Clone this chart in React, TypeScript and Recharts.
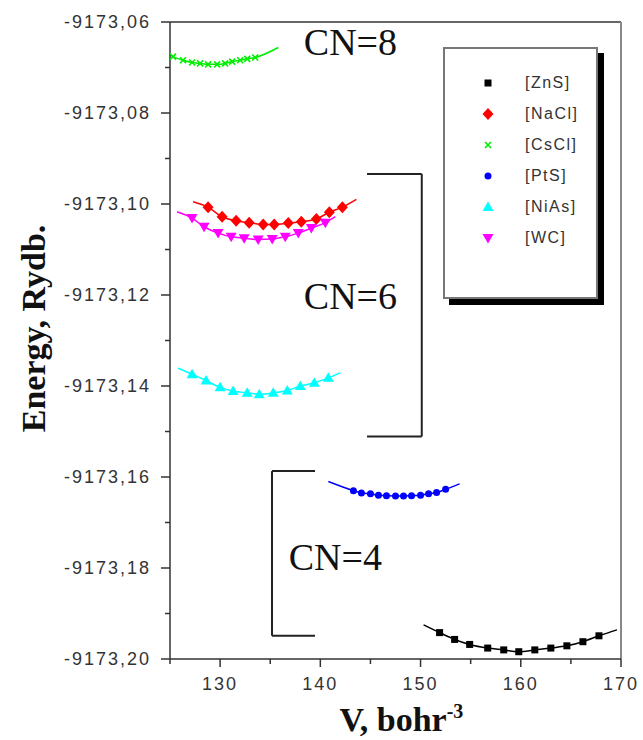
import {
  ComposedChart,
  Line,
  Scatter,
  XAxis,
  YAxis,
  ReferenceLine,
  ReferenceDot,
  Legend,
  Label,
} from "recharts";

// volumes (bohr^3) and energies (Rydb.)
const znsV = [151.9, 153.4, 154.9, 156.7, 158.3, 159.8, 161.4, 163.0, 164.6, 166.2, 167.8];
const znsE = [-9173.1942, -9173.1957, -9173.1968, -9173.1976, -9173.198, -9173.1984, -9173.198, -9173.1976, -9173.1971, -9173.1962, -9173.1949];
const naclV = [128.8, 130.2, 131.6, 132.9, 134.3, 135.4, 136.8, 138.1, 139.6, 140.9, 142.2];
const naclE = [-9173.1007, -9173.1028, -9173.1037, -9173.1041, -9173.1045, -9173.1045, -9173.1042, -9173.1039, -9173.1033, -9173.1018, -9173.1007];
const csclV = [125.3, 126.3, 127.2, 128.0, 128.8, 129.7, 130.5, 131.2, 132.0, 132.7, 133.5];
const csclE = [-9173.0676, -9173.0684, -9173.0689, -9173.0691, -9173.0693, -9173.0693, -9173.0691, -9173.0687, -9173.0684, -9173.0681, -9173.0678];
const ptsV = [143.3, 144.1, 145.0, 145.8, 146.6, 147.5, 148.3, 149.1, 150.0, 150.8, 151.6, 152.5];
const ptsE = [-9173.163, -9173.1635, -9173.1637, -9173.164, -9173.1641, -9173.1642, -9173.1642, -9173.1641, -9173.164, -9173.1637, -9173.1634, -9173.1627];
const niasV = [127.2, 128.6, 130.0, 131.3, 132.7, 133.9, 135.3, 136.7, 138.0, 139.4, 140.8];
const niasE = [-9173.1374, -9173.1388, -9173.1403, -9173.1411, -9173.1415, -9173.1418, -9173.1415, -9173.141, -9173.14, -9173.1393, -9173.1382];
const wcV = [127.2, 128.4, 129.8, 131.1, 132.4, 133.8, 135.2, 136.5, 137.8, 139.1, 140.5];
const wcE = [-9173.1031, -9173.105, -9173.1064, -9173.1072, -9173.1075, -9173.1078, -9173.1077, -9173.1072, -9173.1064, -9173.1053, -9173.1041];

// ends of the fitted curves [V, E]
const znsFit = [[150.3, -9173.1925], [169.6, -9173.1936]];
const naclFit = [[127.3, -9173.0995], [143.6, -9173.099]];
const csclFit = [[125.0, -9173.0673], [135.8, -9173.0656]];
const ptsFit = [[140.8, -9173.161], [153.9, -9173.1615]];
const niasFit = [[125.8, -9173.1361], [142.0, -9173.1371]];
const wcFit = [[125.7, -9173.1017], [141.5, -9173.1028]];

const xTicks = [125, 130, 135, 140, 145, 150, 155, 160, 165, 170];
const xLabeled = [130, 140, 150, 160, 170];
const yTicks = [
  -9173.2, -9173.19, -9173.18, -9173.17, -9173.16, -9173.15, -9173.14, -9173.13,
  -9173.12, -9173.11, -9173.1, -9173.09, -9173.08, -9173.07, -9173.06,
];
const yLabeled = [-9173.2, -9173.18, -9173.16, -9173.14, -9173.12, -9173.1, -9173.08, -9173.06];

// bracket annotations [V, E] corner points
const cn6Bracket = [[144.66, -9173.0934], [150.12, -9173.0934], [150.12, -9173.1511], [144.66, -9173.1511]];
const cn4Bracket = [[139.47, -9173.1587], [135.18, -9173.1587], [135.18, -9173.1949], [139.47, -9173.1949]];
const cnLabels = [
  { text: "CN=8", x: 143.0, y: -9173.0643 },
  { text: "CN=6", x: 143.0, y: -9173.1202 },
  { text: "CN=4", x: 141.5, y: -9173.1774 },
];

const series = [
  { name: "[ZnS]", color: "#000000", marker: "square", v: znsV, e: znsE, fit: znsFit },
  { name: "[NaCl]", color: "#ff0000", marker: "diamond", v: naclV, e: naclE, fit: naclFit },
  { name: "[CsCl]", color: "#00ee00", marker: "cross", v: csclV, e: csclE, fit: csclFit },
  { name: "[PtS]", color: "#0000ff", marker: "circle", v: ptsV, e: ptsE, fit: ptsFit },
  { name: "[NiAs]", color: "#00ffff", marker: "up", v: niasV, e: niasE, fit: niasFit },
  { name: "[WC]", color: "#ff00ff", marker: "down", v: wcV, e: wcE, fit: wcFit },
];

const AXIS = "#333";
const SANS = "'Liberation Sans', Arial, sans-serif";
const SERIF = "'Liberation Serif', 'Times New Roman', serif";

function Marker({ kind, cx, cy, color }: { kind: string; cx: number; cy: number; color: string }) {
  switch (kind) {
    case "square":
      return <rect x={cx - 3.5} y={cy - 3.5} width={7} height={7} fill={color} />;
    case "diamond":
      return <polygon points={`${cx},${cy - 6} ${cx + 5.5},${cy} ${cx},${cy + 6} ${cx - 5.5},${cy}`} fill={color} />;
    case "cross":
      return (
        <path
          d={`M${cx - 3},${cy - 3}L${cx + 3},${cy + 3}M${cx + 3},${cy - 3}L${cx - 3},${cy + 3}`}
          stroke={color}
          strokeWidth={1.6}
        />
      );
    case "circle":
      return <circle cx={cx} cy={cy} r={3.5} fill={color} />;
    case "up":
      return <polygon points={`${cx},${cy - 5.5} ${cx + 5.5},${cy + 4} ${cx - 5.5},${cy + 4}`} fill={color} />;
    default:
      return <polygon points={`${cx},${cy + 5.5} ${cx + 5.5},${cy - 4} ${cx - 5.5},${cy - 4}`} fill={color} />;
  }
}

const fmtY = (v: number) => v.toFixed(2).replace(".", ",");

function YTick(props: any) {
  const { x, y, payload } = props;
  const major = yLabeled.includes(payload.value);
  return (
    <g>
      <line x1={x} x2={x - (major ? 9 : 5)} y1={y} y2={y} stroke={AXIS} strokeWidth={1.5} />
      {major && (
        <text x={x - 19} y={y} dy="0.36em" textAnchor="end" fontSize={18} letterSpacing={2} fill="#333" fontFamily={SANS}>
          {fmtY(payload.value)}
        </text>
      )}
    </g>
  );
}

function XTick(props: any) {
  const { x, y, payload } = props;
  const major = xLabeled.includes(payload.value);
  return (
    <g>
      <line x1={x} x2={x} y1={y} y2={y + (major ? 8 : 5)} stroke={AXIS} strokeWidth={1.5} />
      {major && (
        <text x={x} y={y + 31} textAnchor="middle" fontSize={18} letterSpacing={2} fill="#333" fontFamily={SANS}>
          {payload.value}
        </text>
      )}
    </g>
  );
}

function LegendBox() {
  return (
    <div
      style={{
        width: 155,
        height: 252,
        border: "2px solid #777",
        background: "#fff",
        boxShadow: "6px 6px 0 #000",
        paddingTop: 18,
        boxSizing: "border-box",
      }}
    >
      {series.map((s) => (
        <div key={s.name} style={{ display: "flex", alignItems: "center", height: 31 }}>
          <svg width={80} height={20}>
            <Marker kind={s.marker} cx={43} cy={10} color={s.color} />
          </svg>
          <span style={{ fontFamily: SANS, fontSize: 16, letterSpacing: 1.5, color: "#333" }}>{s.name}</span>
        </div>
      ))}
    </div>
  );
}

export default function App() {
  return (
    <div style={{ position: "absolute", left: 0, top: 0, width: 643, height: 740, background: "#fff" }}>
      <ComposedChart width={643} height={740} margin={{ top: 22, right: 22, left: 0, bottom: 0 }}>
        <XAxis
          type="number"
          dataKey="x"
          domain={[125, 170]}
          ticks={xTicks}
          interval={0}
          allowDataOverflow
          height={81}
          tickSize={0}
          tickMargin={0}
          tickLine={false}
          tick={<XTick />}
          axisLine={{ stroke: AXIS, strokeWidth: 1.5 }}
        >
          <Label
            content={(p: any) => {
              const vb = p.viewBox;
              return (
                <text
                  x={vb.x + vb.width / 2 + 6}
                  y={731}
                  textAnchor="middle"
                  fontFamily={SERIF}
                  fontWeight="bold"
                  fontSize={34}
                  fill="#111"
                >
                  V, bohr
                  <tspan dy={-13} fontSize={20}>-3</tspan>
                </text>
              );
            }}
          />
        </XAxis>
        <YAxis
          type="number"
          dataKey="y"
          domain={[-9173.2, -9173.06]}
          ticks={yTicks}
          interval={0}
          allowDataOverflow
          width={170}
          tickSize={0}
          tickMargin={0}
          tickLine={false}
          tick={<YTick />}
          axisLine={{ stroke: AXIS, strokeWidth: 1.5 }}
        >
          <Label
            content={(p: any) => {
              const vb = p.viewBox;
              const cy = vb.y + vb.height / 2 - 12;
              return (
                <text
                  x={45}
                  y={cy}
                  transform={`rotate(-90, 45, ${cy})`}
                  textAnchor="middle"
                  fontFamily={SERIF}
                  fontWeight="bold"
                  fontSize={34}
                  fill="#111"
                >
                  Energy, Rydb.
                </text>
              );
            }}
          />
        </YAxis>

        <ReferenceLine y={-9173.06} stroke={AXIS} strokeWidth={1.5} />
        <ReferenceLine x={170} stroke="#888" strokeWidth={2} />

        {[cn6Bracket, cn4Bracket].map((b, bi) =>
          b.slice(1).map((pt, i) => (
            <ReferenceLine
              key={`br-${bi}-${i}`}
              segment={[
                { x: b[i][0], y: b[i][1] },
                { x: pt[0], y: pt[1] },
              ]}
              stroke="#222"
              strokeWidth={2}
            />
          ))
        )}

        {cnLabels.map((c) => (
          <ReferenceDot
            key={c.text}
            x={c.x}
            y={c.y}
            r={0}
            fill="none"
            stroke="none"
            label={{ value: c.text, position: "center", fontSize: 38, fill: "#111", fontFamily: SERIF }}
          />
        ))}

        {series.map((s) => (
          <Line
            key={`fit-${s.name}`}
            data={[
              { x: s.fit[0][0], y: s.fit[0][1] },
              ...s.v.map((v, i) => ({ x: v, y: s.e[i] })),
              { x: s.fit[1][0], y: s.fit[1][1] },
            ]}
            dataKey="y"
            type="monotone"
            stroke={s.color}
            strokeWidth={1.5}
            dot={false}
            activeDot={false}
            legendType="none"
            isAnimationActive={false}
          />
        ))}
        {series.map((s) => (
          <Scatter
            key={`pts-${s.name}`}
            name={s.name}
            data={s.v.map((v, i) => ({ x: v, y: s.e[i] }))}
            dataKey="y"
            fill={s.color}
            shape={(p: any) => <Marker kind={s.marker} cx={p.cx} cy={p.cy} color={s.color} />}
            isAnimationActive={false}
          />
        ))}

        <Legend
          layout="vertical"
          align="center"
          verticalAlign="middle"
          content={() => <LegendBox />}
          wrapperStyle={{ left: 443, top: 47, width: 162, height: 262 }}
        />
      </ComposedChart>
    </div>
  );
}
